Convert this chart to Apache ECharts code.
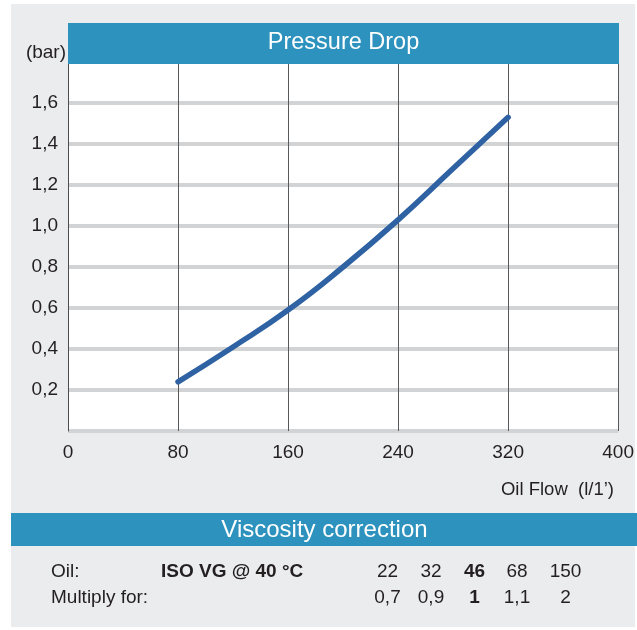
<!DOCTYPE html>
<html><head><meta charset="utf-8">
<script src="https://cdn.jsdelivr.net/npm/echarts@6/dist/echarts.min.js"></script>
<style>html,body{margin:0;padding:0;background:#fff}#c{width:637px;height:630px}</style>
</head><body><div id="c"></div>
<script>
const flow = [80, 120, 160, 200, 240, 280, 320];
const pressure = [0.24, 0.41, 0.59, 0.80, 1.03, 1.28, 1.53];
const xTicks = [0, 80, 160, 240, 320, 400];
const yTicks = [0.2, 0.4, 0.6, 0.8, 1.0, 1.2, 1.4, 1.6];
const oilGrades = ['22', '32', '46', '68', '150'];
const multipliers = ['0,7', '0,9', '1', '1,1', '2'];
const boldIndex = 2;

const FONT = '"Liberation Sans", Arial, sans-serif';
const colX = [387.5, 431, 474.5, 517, 565.5];
const tableTexts = [];
oilGrades.forEach((g, i) => tableTexts.push({type:'text', z:10, style:{text:g, x:colX[i], y:572, textAlign:'center', textVerticalAlign:'middle', font:(i===boldIndex?'bold ':'')+'19px '+FONT, fill:'#231f20'}}));
multipliers.forEach((m, i) => tableTexts.push({type:'text', z:10, style:{text:m, x:colX[i], y:598, textAlign:'center', textVerticalAlign:'middle', font:(i===boldIndex?'bold ':'')+'19px '+FONT, fill:'#231f20'}}));

const chart = echarts.init(document.getElementById('c'), null, {renderer:'canvas'});
chart.setOption({
  animation: false,
  backgroundColor: '#ffffff',
  grid: {left: 68, right: 18, top: 62, bottom: 199, backgroundColor: '#ffffff', show: true, borderWidth: 0, z: 1},
  xAxis: {
    type: 'value', min: 0, max: 400, interval: 80, z: 3,
    axisLine: {show: false}, axisTick: {show: false},
    axisLabel: {color: '#231f20', fontSize: 19, fontFamily: FONT, margin: 12,
      formatter: v => xTicks.includes(v) ? String(v) : ''},
    splitLine: {show: true, lineStyle: {color: '#58595b', width: 1}}
  },
  yAxis: {
    type: 'value', min: 0, max: 1.8, interval: 0.2, z: 3,
    axisLine: {show: true, onZero: false, lineStyle: {color: '#4d4d4f', width: 1}},
    axisTick: {show: false},
    axisLabel: {color: '#231f20', fontSize: 19, fontFamily: FONT, margin: 10,
      formatter: v => yTicks.some(t => Math.abs(t - v) < 1e-6) ? v.toFixed(1).replace('.', ',') : ''},
    splitLine: {show: true, lineStyle: {color: '#d1d3d4', width: 4}}
  },
  series: [{
    type: 'line', data: flow.map((f, i) => [f, pressure[i]]), smooth: true, showSymbol: false, z: 5,
    lineStyle: {color: '#2f62a3', width: 5.5, cap: 'round'}
  }],
  graphic: [
    {type:'rect', z:-10, silent:true, shape:{x:11, y:4, width:624, height:623}, style:{fill:'#ebeced'}},
    {type:'rect', z:20, shape:{x:68, y:23, width:551, height:41}, style:{fill:'#2d92bd'}},
    {type:'text', z:21, style:{text:'Pressure Drop', x:343.5, y:43, textAlign:'center', textVerticalAlign:'middle', font:'23.5px '+FONT, fill:'#ffffff'}},
    {type:'text', z:21, style:{text:'(bar)', x:66, y:53, textAlign:'right', textVerticalAlign:'middle', font:'19px '+FONT, fill:'#231f20'}},
    {type:'text', z:21, style:{text:'Oil Flow  (l/1\u2019)', x:614, y:490, textAlign:'right', textVerticalAlign:'middle', font:'18.5px '+FONT, fill:'#231f20'}},
    {type:'rect', z:20, shape:{x:11, y:513, width:626, height:33}, style:{fill:'#2d92bd'}},
    {type:'text', z:21, style:{text:'Viscosity correction', x:324.5, y:530, textAlign:'center', textVerticalAlign:'middle', font:'24px '+FONT, fill:'#ffffff'}},
    {type:'text', z:10, style:{text:'Oil:', x:51, y:572, textAlign:'left', textVerticalAlign:'middle', font:'19px '+FONT, fill:'#231f20'}},
    {type:'text', z:10, style:{text:'ISO VG @ 40 \u00b0C', x:161, y:572, textAlign:'left', textVerticalAlign:'middle', font:'bold 19px '+FONT, fill:'#231f20'}},
    {type:'text', z:10, style:{text:'Multiply for:', x:51, y:598, textAlign:'left', textVerticalAlign:'middle', font:'19px '+FONT, fill:'#231f20'}}
  ].concat(tableTexts)
});
</script></body></html>
